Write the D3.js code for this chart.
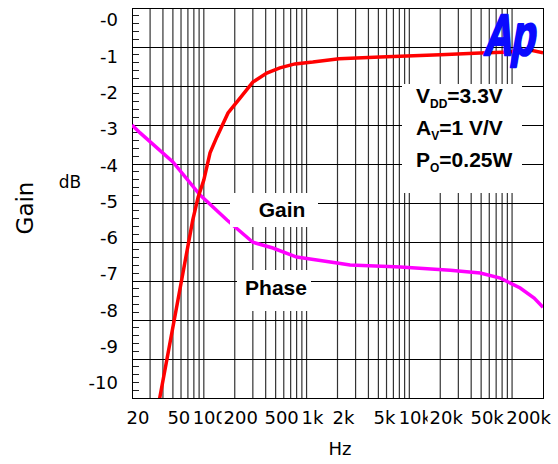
<!DOCTYPE html>
<html>
<head>
<meta charset="utf-8">
<script src="https://cdn.jsdelivr.net/npm/d3@7"></script>
<style>
	body { margin: 0; background: #fff; }
	svg { display: block; }
	.tick text, .xlabel { font-family: "DejaVu Sans", sans-serif; font-size: 18px; fill: #000; }
	.note { font-family: "Liberation Sans", Arial, sans-serif; font-weight: bold; font-size: 21px; fill: #000; }
</style>
</head>
<body>
<svg id="graph"></svg>
<script>
// frequency axis
var freqTicks = [20, 50, 100, 200, 500, 1000, 2000, 5000, 10000, 20000, 50000, 200000],
	freqText = ["20", "50", "100", "200", "500", "1k", "2k", "5k", "10k", "20k", "50k", "200k"];
// gain axis (dB)
var dbTicks = [0, -1, -2, -3, -4, -5, -6, -7, -8, -9, -10];

// gain curve
var gainHz = [37, 56, 78, 88, 100, 115, 134, 172, 225, 300, 410, 550, 770, 1150, 2070, 5200, 20000, 49000, 95000, 150000, 200000],
	gainDb = [-10.45, -7.71, -5.51, -4.88, -4.41, -3.66, -3.22, -2.56, -2.15, -1.71, -1.46, -1.32, -1.21, -1.16, -1.07, -1.02, -0.96, -0.91, -0.88, -0.83, -0.9];

// phase curve
var phaseHz = [20, 24, 50, 92, 168, 300, 470, 800, 1260, 1980, 2650, 8200, 25000, 49000, 77000, 120000, 164000, 200000],
	phaseDb = [-2.89, -3.11, -3.91, -4.82, -5.51, -6.12, -6.28, -6.53, -6.61, -6.69, -6.75, -6.80, -6.89, -6.97, -7.11, -7.38, -7.66, -7.91];

var margin = {top: 8, left: 132, right: 15, bottom: 66},
	W = 558, H = 464,
	width = W - margin.left - margin.right,
	height = H - margin.top - margin.bottom,
	graph = d3.select("#graph").attr("width", W).attr("height", H),
	g = graph.append("g").attr("transform", "translate(" + margin.left + "," + margin.top + ")");

graph.insert("rect", ":first-child").attr("width", W).attr("height", H).attr("fill", "#fff");

var x = d3.scaleLog().domain([20, 200000]).range([0, width]),
	y = d3.scaleLinear().domain([0.33, -10.41]).range([0, height]),
	div = d3.scaleLinear().domain([0, 10]).range([0, height]);

g.append("clipPath").attr("id", "plotclip")
	.append("rect").attr("width", width).attr("height", height);

//grid
g.append("g").selectAll("line")
	.data(x.ticks().filter(function(d) { return d > 20 && d < 200000; }))
	.enter().append("line")
		.attr("x1", function(d) { return x(d); })
		.attr("x2", function(d) { return x(d); })
		.attr("y1", 0).attr("y2", height)
		.attr("stroke", "#333").attr("stroke-width", 1.2);

g.append("g").selectAll("line")
	.data(d3.range(1, 10))
	.enter().append("line")
		.attr("x1", 0).attr("x2", width)
		.attr("y1", function(d) { return div(d); })
		.attr("y2", function(d) { return div(d); })
		.attr("stroke", "#000").attr("shape-rendering", "crispEdges");

g.append("g").selectAll("line")
	.data(d3.range(0, 50).filter(function(d) { return d % 5 != 0; }))
	.enter().append("line")
		.attr("x1", 0).attr("x2", 7)
		.attr("y1", function(d) { return div(d / 5); })
		.attr("y2", function(d) { return div(d / 5); })
		.attr("stroke", "#222").attr("shape-rendering", "crispEdges");

g.append("rect")
	.attr("width", width).attr("height", height)
	.attr("fill", "none").attr("stroke", "#000")
	.attr("shape-rendering", "crispEdges");

//curves
var line = d3.line()
	.x(function(d) { return x(d[0]); })
	.y(function(d) { return y(d[1]); });

g.append("path")
	.datum(d3.zip(phaseHz, phaseDb))
	.attr("clip-path", "url(#plotclip)")
	.attr("fill", "none").attr("stroke", "#ff00ff").attr("stroke-width", 3.5)
	.attr("d", line);

g.append("path")
	.datum(d3.zip(gainHz, gainDb))
	.attr("clip-path", "url(#plotclip)")
	.attr("fill", "none").attr("stroke", "#ff0000").attr("stroke-width", 3.5)
	.attr("d", line);

//axes
var yAxis = d3.axisLeft(y).tickValues(dbTicks).tickSize(0).tickPadding(14)
		.tickFormat(function(d) { return "-" + Math.abs(d); });
var yg = g.append("g").call(yAxis);
yg.select(".domain").remove();

// x labels: each one sits on its own white box, so a later label hides the end of the one before
var xl = g.append("g").attr("transform", "translate(0," + height + ")");
freqTicks.forEach(function(d, i) {
	var last = i == freqTicks.length - 1,
		t = xl.append("text")
			.attr("class", "xlabel")
			.attr("x", x(d) + (last ? 8 : 6))
			.attr("y", 26)
			.attr("text-anchor", last ? "end" : "middle")
			.text(freqText[i]),
		b = t.node().getBBox();
	xl.insert("rect", function() { return t.node(); })
		.attr("x", b.x - 2).attr("y", b.y)
		.attr("width", b.width + 4).attr("height", b.height)
		.attr("fill", "#fff");
});

graph.append("text")
	.attr("transform", "translate(33,208) rotate(-90)")
	.attr("text-anchor", "middle")
	.style("font-family", "DejaVu Sans, sans-serif").style("font-size", "23px")
	.text("Gain");

graph.append("text")
	.attr("x", 70).attr("y", 188)
	.attr("text-anchor", "middle")
	.style("font-family", "DejaVu Sans, sans-serif").style("font-size", "17px")
	.text("dB");

graph.append("text")
	.attr("x", 340).attr("y", 455)
	.attr("text-anchor", "middle")
	.style("font-family", "DejaVu Sans, sans-serif").style("font-size", "18px")
	.text("Hz");

//labels on the plot
graph.append("rect").attr("x", 230).attr("y", 193).attr("width", 88).attr("height", 34).attr("fill", "#fff");
graph.append("text").attr("class", "note").attr("x", 282).attr("y", 217).attr("text-anchor", "middle").text("Gain");

graph.append("rect").attr("x", 237).attr("y", 270).attr("width", 74).attr("height", 41).attr("fill", "#fff");
graph.append("text").attr("class", "note").attr("x", 276).attr("y", 295).attr("text-anchor", "middle").text("Phase");

graph.append("rect").attr("x", 402).attr("y", 84).attr("width", 120).attr("height", 109).attr("fill", "#fff");
var notes = [["V", "DD", "=3.3V"], ["A", "V", "=1 V/V"], ["P", "O", "=0.25W"]];
notes.forEach(function(n, i) {
	var t = graph.append("text").attr("class", "note").attr("x", 416).attr("y", 103 + i * 32);
	t.append("tspan").text(n[0]);
	t.append("tspan").attr("dy", 5).style("font-size", "12px").text(n[1]);
	t.append("tspan").attr("dy", -5).text(n[2]);
});

graph.append("text")
	.attr("transform", "translate(483,55) skewX(-10) scale(0.68,1)")
	.style("font-family", "Liberation Sans, Arial, sans-serif")
	.style("font-weight", "bold")
	.style("font-size", "58px").attr("fill", "#0a0aff")
	.attr("stroke", "#0a0aff").attr("stroke-width", 2.5).attr("stroke-linejoin", "round")
	.attr("letter-spacing", -2)
	.text("Ap");
</script>
</body>
</html>
